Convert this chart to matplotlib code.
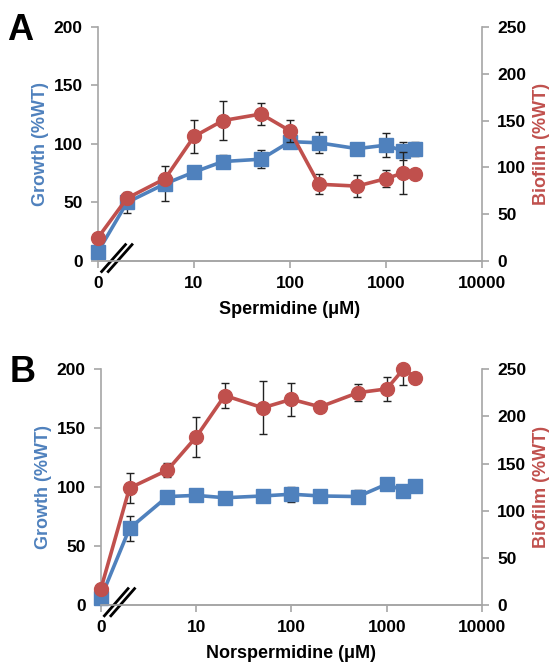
import numpy as np
import matplotlib.pyplot as plt

plt.rcParams['font.family'] = ['Liberation Sans', 'DejaVu Sans']
plt.rcParams['font.weight'] = 'bold'

# concentraciones (uM); 0 se dibuja en la posicion de 1 en el eje log
conc = [0, 2, 5, 10, 20, 50, 100, 200, 500, 1000, 1500, 2000]

# panel A - espermidina
growthA = [8, 50, 66, 76, 85, 87, 102, 101, 96, 99, 94, 96]
growthA_err = [2, 9, 15, 2, 5.5, 7.5, 5.5, 9, 2, 10, 8, 6]
biofilmA = [25, 67, 88, 133, 150, 157, 139, 82, 80, 88, 94, 93]
biofilmA_err = [2, 2, 3, 18, 21, 12, 11.5, 10.5, 12, 9, 22, 0]

# panel B - norespermidina
growthB = [6, 65, 92, 93, 91, 92.5, 94, 92.5, 92, 102.5, 97, 101]
growthB_err = [1, 10.5, 2, 2, 2, 3, 6.5, 2, 5.5, 3, 2, 0]
biofilmB = [17, 124, 143, 178, 222, 209, 218, 210, 225, 229, 250, 241]
biofilmB_err = [2, 15.5, 7.5, 21.5, 13, 28, 17.5, 2, 9, 13, 16.5, 0]

xticks = [1, 10, 100, 1000, 10000]
xticklabels = ['0', '10', '100', '1000', '10000']

blue = '#4F81BD'
red = '#C0504D'
gray = '#a6a6a6'

fig = plt.figure(figsize=(5.54, 6.65), dpi=100)

x = np.array(conc, dtype=float)
x[x == 0] = 1


def panel(rect, growth, gerr, biofilm, berr, xlabel, letter):
    ax = fig.add_axes(rect)
    ax2 = ax.twinx()
    ax.set_xscale('log')
    ax.set_xlim(1, 10000)
    ax.set_ylim(0, 200)
    ax2.set_ylim(0, 250)

    ax.errorbar(x, growth, yerr=gerr, fmt='none', ecolor='#222222',
                elinewidth=1, capsize=3, capthick=1, zorder=2)
    ax.plot(x, growth, color=blue, lw=2.6, marker='s', ms=10, zorder=3,
            clip_on=False)
    ax2.errorbar(x, biofilm, yerr=berr, fmt='none', ecolor='#222222',
                 elinewidth=1, capsize=3, capthick=1, zorder=2)
    ax2.plot(x, biofilm, color=red, lw=2.6, marker='o', ms=10, zorder=3,
             clip_on=False)

    ax.set_xticks(xticks)
    ax.set_xticklabels(xticklabels)
    ax.xaxis.set_minor_locator(plt.NullLocator())
    ax.set_yticks(range(0, 201, 50))
    ax2.set_yticks(range(0, 251, 50))

    for a in (ax, ax2):
        a.spines['top'].set_visible(False)
        for s in ('left', 'right', 'bottom'):
            a.spines[s].set_color(gray)
            a.spines[s].set_linewidth(1.2)
        a.tick_params(axis='both', colors=gray, labelcolor='black',
                      labelsize=12.5, length=5, width=1.2, pad=6)
    ax2.spines['left'].set_visible(False)
    ax.spines['right'].set_visible(False)

    ax.set_xlabel(xlabel, fontsize=13, fontweight='bold', labelpad=7)
    ax.set_ylabel('Growth (%WT)', fontsize=13, fontweight='bold',
                  color=blue, labelpad=3)
    ax2.set_ylabel('Biofilm (%WT)', fontsize=13, fontweight='bold',
                   color=red, labelpad=5)

    # marca de corte del eje
    for dx in (1.0, 1.17):
        ax.plot([1.09 * dx, 1.93 * dx], [-9, 14], color='black', lw=2,
                clip_on=False, zorder=5)

    fig.text(rect[0] - 0.165, rect[1] + rect[3] - 0.005, letter,
             fontsize=26, fontweight='bold', va='center')


panel([0.177, 0.6075, 0.693, 0.352], growthA, growthA_err, biofilmA,
      biofilmA_err, 'Spermidine (\u03bcM)', 'A')
panel([0.182, 0.090, 0.688, 0.355], growthB, growthB_err, biofilmB,
      biofilmB_err, 'Norspermidine (\u03bcM)', 'B')

plt.savefig('out.png', dpi=100)
